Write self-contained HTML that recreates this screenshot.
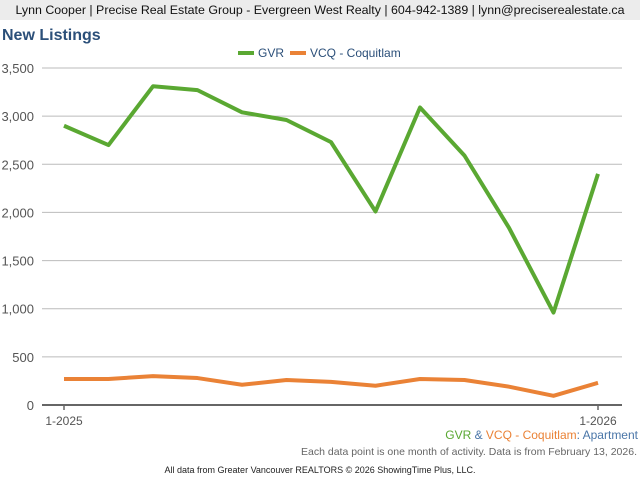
<!DOCTYPE html>
<html><head><meta charset="utf-8"><style>
body{margin:0;width:640px;height:480px;overflow:hidden;font-family:"Liberation Sans",sans-serif;background:#fff}
#hdr{position:absolute;left:0;top:0;width:640px;height:20px;background:#ececec;text-align:center;font-size:12.4px;line-height:20px;color:#111;white-space:nowrap}
</style></head><body>
<div id="hdr">Lynn Cooper | Precise Real Estate Group - Evergreen West Realty | 604-942-1389 | lynn@preciserealestate.ca</div>
<svg id="chart" width="640" height="480" style="position:absolute;left:0;top:0" font-family="Liberation Sans, sans-serif">
<text x="2" y="40" font-size="16" font-weight="bold" fill="#2b4f79">New Listings</text>
<g>
<rect x="238" y="51" width="16" height="4" fill="#5aa832"/>
<text x="258" y="57" font-size="12" fill="#2b4f79">GVR</text>
<rect x="290" y="51" width="16" height="4" fill="#ea8236"/>
<text x="310" y="57" font-size="12" fill="#2b4f79">VCQ - Coquitlam</text>
</g>
<g id="grid"></g><g id="lines"></g>
<text x="638" y="439" font-size="12" text-anchor="end"><tspan fill="#5aa832">GVR</tspan><tspan fill="#4a76a8"> &amp; </tspan><tspan fill="#ea8236">VCQ - Coquitlam</tspan><tspan fill="#4a76a8">: Apartment</tspan></text>
<text x="637" y="455" font-size="10.5" text-anchor="end" fill="#666">Each data point is one month of activity. Data is from February 13, 2026.</text>
<text x="320" y="473" font-size="9" text-anchor="middle" fill="#222">All data from Greater Vancouver REALTORS © 2026 ShowingTime Plus, LLC.</text>
</svg>
<script>
const months=["1-2025","2-2025","3-2025","4-2025","5-2025","6-2025","7-2025","8-2025","9-2025","10-2025","11-2025","12-2025","1-2026"];
const gvr=[2900,2700,3310,3270,3040,2960,2730,2010,3090,2590,1840,960,2400];
const vcq=[270,270,300,280,210,260,240,200,270,260,190,95,230];
const yTicks=[0,500,1000,1500,2000,2500,3000,3500];
const NS="http://www.w3.org/2000/svg";
const x=i=>64+i*(598-64)/(months.length-1);
const y=v=>405-v*(405-68)/3500;
const g=document.getElementById('grid'),L=document.getElementById('lines');
function mk(t,a,p){const e=document.createElementNS(NS,t);for(const k in a)e.setAttribute(k,a[k]);p.appendChild(e);return e;}
yTicks.forEach(v=>{
 const ln=mk('line',{x1:42,x2:622,y1:y(v),y2:y(v),stroke:v===0?'#666':'#bbb','stroke-width':v===0?2:1},g);
 
 
 const t=mk('text',{x:34,y:y(v)+5,'font-size':13,'text-anchor':'end',fill:'#555'},g);
 t.textContent=v.toLocaleString('en-US');
 
 
});
[0,months.length-1].forEach(i=>{
 const tk=mk('line',{x1:x(i),x2:x(i),y1:405,y2:410,stroke:'#666','stroke-width':1.5},g);
 
 
 const t=mk('text',{x:x(i),y:425,'font-size':12,'text-anchor':'middle',fill:'#555'},g);
 t.textContent=months[i];
 
 
});
function line(d,c,n){
 const p=mk('polyline',{points:d.map((v,i)=>x(i)+','+y(v)).join(' '),fill:'none',stroke:c,'stroke-width':4,'stroke-linejoin':'round'},L);
 
 
}
line(gvr,'#5aa832','gvr-line');
line(vcq,'#ea8236','vcq-line');
</script>
</body></html>
